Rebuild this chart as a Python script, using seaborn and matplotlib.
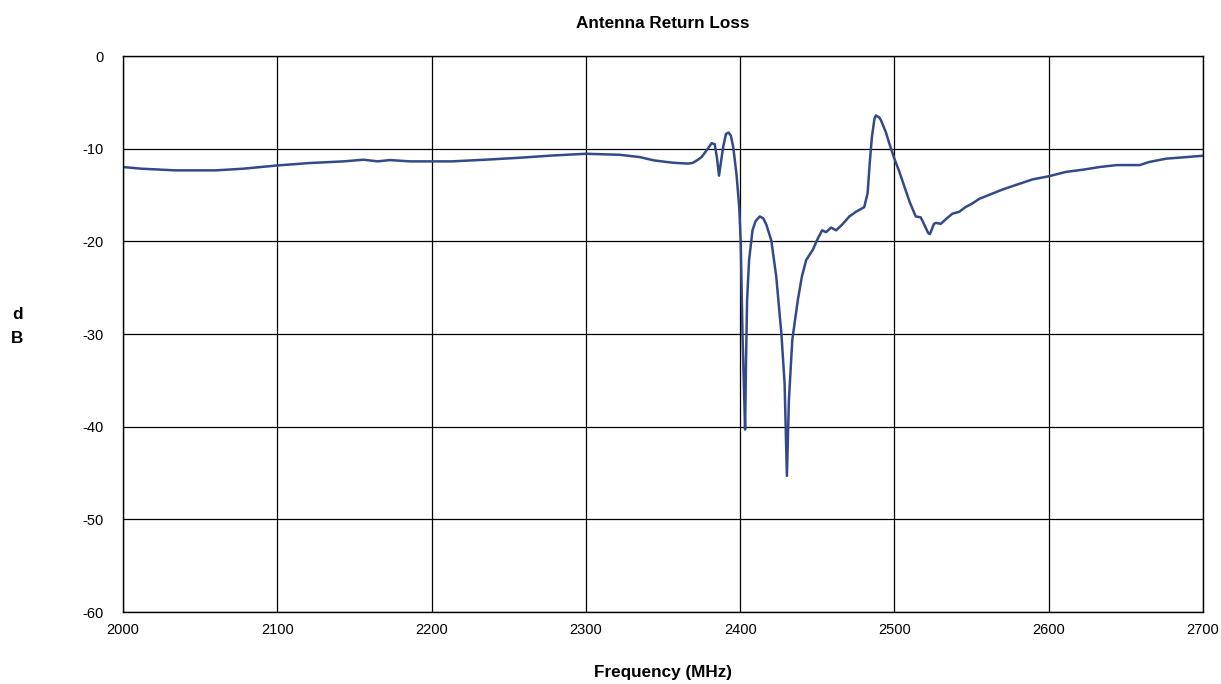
"""
Antenna return loss sweep, 2.0 - 2.7 GHz.
"""
import pandas as pd
import matplotlib.pyplot as plt
import seaborn as sns

# --- Data ---
freq_mhz = [
    2000, 2012, 2034, 2060, 2078, 2100, 2121, 2143, 2156, 2165, 2173, 2186,
    2200, 2213, 2235, 2257, 2279, 2300, 2322, 2335, 2344, 2356, 2366, 2369,
    2372, 2375, 2379, 2381.5, 2383.5, 2385, 2386.3, 2387.5, 2389, 2390.8,
    2392.5, 2394, 2395.5, 2397.6, 2399.4, 2400.4, 2401.5, 2402.5, 2403.2,
    2403.8, 2404.5, 2405.8, 2408, 2410, 2412.7, 2415, 2417, 2420.2, 2423.4,
    2426.7, 2428.8, 2430.3, 2431.6, 2433.8, 2437.4, 2440, 2442.8, 2447.1,
    2450, 2453.1, 2455.7, 2458.9, 2462.2, 2466, 2470.8, 2475, 2480.4, 2482.6,
    2484, 2485.4, 2487, 2488, 2490, 2491.2, 2494.4, 2497, 2500, 2503, 2507.3,
    2510, 2513.8, 2517, 2519.1, 2521.9, 2523, 2525.6, 2527, 2530, 2534,
    2537.6, 2542, 2546, 2550.5, 2555, 2561, 2570, 2578.8, 2589.6, 2600, 2611,
    2622, 2633, 2644, 2659, 2665, 2676, 2689, 2700,
]
return_loss_db = [
    -11.97, -12.15, -12.33, -12.33, -12.15, -11.8, -11.54, -11.36, -11.18,
    -11.36, -11.22, -11.36, -11.36, -11.36, -11.18, -10.97, -10.72, -10.54,
    -10.65, -10.9, -11.25, -11.5, -11.6, -11.54, -11.25, -10.9, -10.0, -9.4,
    -9.5, -11.0, -12.9, -11.5, -9.8, -8.4, -8.25, -8.6, -9.8, -12.7, -16.3,
    -20.2, -29.9, -36.0, -40.3, -33.0, -26.3, -22.0, -18.8, -17.8, -17.3,
    -17.5, -18.2, -19.9, -23.8, -29.9, -35.3, -45.3, -37.1, -30.6, -26.3,
    -23.8, -22.0, -20.9, -19.8, -18.8, -19.0, -18.5, -18.8, -18.2, -17.3,
    -16.8, -16.3, -14.8, -11.5, -8.7, -6.8, -6.4, -6.6, -6.9, -8.2, -9.6,
    -11.1, -12.4, -14.5, -15.8, -17.3, -17.4, -18.1, -19.1, -19.2, -18.1,
    -18.0, -18.1, -17.5, -17.0, -16.8, -16.3, -15.9, -15.4, -15.0, -14.4,
    -13.9, -13.3, -12.97, -12.5, -12.26, -11.97, -11.76, -11.76, -11.43,
    -11.07, -10.9, -10.75,
]
x_ticks = [2000, 2100, 2200, 2300, 2400, 2500, 2600, 2700]
y_ticks = [0, -10, -20, -30, -40, -50, -60]

df = pd.DataFrame({"freq": freq_mhz, "db": return_loss_db})

sns.set_style("white")
plt.rcParams["font.family"] = ["Liberation Sans", "DejaVu Sans"]
plt.rcParams["axes.unicode_minus"] = False

fig = plt.figure(figsize=(12.21, 6.84), dpi=100)
ax = fig.add_axes([0.1007, 0.105, 0.8846, 0.813])

sns.lineplot(data=df, x="freq", y="db", ax=ax, estimator=None,
             color="#324A8A", linewidth=1.8)

ax.set_xlim(2000, 2700)
ax.set_ylim(-60, 0)
ax.set_xticks(x_ticks)
ax.set_yticks(y_ticks)
ax.grid(True, color="black", linewidth=0.9)
for s in ax.spines.values():
    s.set_color("black")
    s.set_linewidth(1.0)
ax.tick_params(axis="both", length=0, labelsize=10.5, colors="black")
ax.tick_params(axis="y", pad=14)
ax.tick_params(axis="x", pad=8)

ax.set_title("Antenna Return Loss", fontsize=12.3, fontweight="bold",
             pad=20, color="black")
ax.set_xlabel("Frequency (MHz)", fontsize=12.3, fontweight="bold",
              labelpad=20, color="black")
ax.set_ylabel("")
fig.text(0.014, 0.522, "d\nB", fontsize=12.3, fontweight="bold",
         ha="center", va="center", linespacing=1.75, color="black")

plt.savefig("out.png", dpi=100)
plt.close(fig)
